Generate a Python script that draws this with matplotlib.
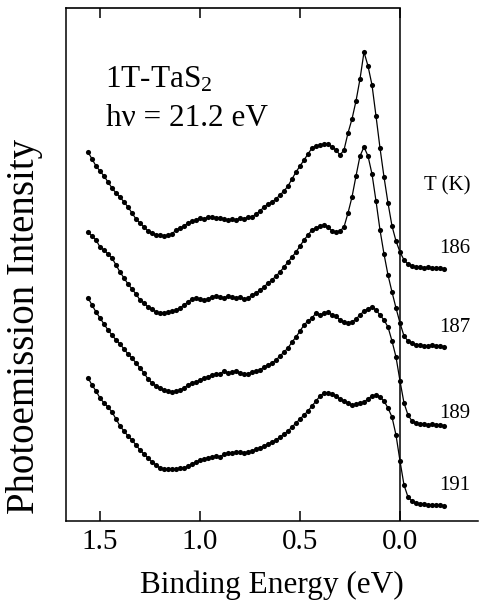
import matplotlib
matplotlib.use("Agg")
import matplotlib.pyplot as plt
import numpy as np

plt.rcParams['font.family'] = ['Liberation Serif', 'DejaVu Serif']
plt.rcParams['mathtext.default'] = 'regular'

# binding energy grid (eV), measured points
energy = np.linspace(1.56, -0.22, 90)

# spectra (already stacked, arbitrary units)
int_186 = [36.9, 36.2, 35.5, 35.0, 34.5, 33.9, 33.3, 32.8, 32.4, 31.9,
           31.4, 30.8, 30.2, 29.8, 29.4, 29.0, 28.8, 28.6, 28.6, 28.5,
           28.6, 28.7, 29.1, 29.3, 29.5, 29.8, 30.0, 30.1, 30.3, 30.2,
           30.4, 30.4, 30.3, 30.3, 30.2, 30.1, 30.2, 30.1, 30.3, 30.2,
           30.4, 30.4, 30.7, 31.0, 31.4, 31.7, 31.9, 32.2, 32.6, 33.0,
           33.5, 34.2, 34.9, 35.5, 36.1, 36.7, 37.3, 37.5, 37.6, 37.7,
           37.7, 37.4, 37.1, 36.6, 37.1, 38.8, 40.2, 42.0, 44.2, 46.9,
           45.5, 43.6, 40.5, 37.3, 34.4, 31.8, 29.5, 28.0, 26.9, 26.1,
           25.7, 25.5, 25.4, 25.4, 25.3, 25.4, 25.3, 25.3, 25.3, 25.2]
int_187 = [28.9, 28.5, 28.1, 27.4, 27.1, 26.7, 26.3, 25.6, 24.9, 24.3,
           23.7, 23.2, 22.7, 22.1, 21.8, 21.4, 21.2, 20.9, 20.8, 20.8,
           20.9, 21.0, 21.1, 21.3, 21.6, 21.9, 22.2, 22.3, 22.2, 22.1,
           22.2, 22.4, 22.5, 22.4, 22.3, 22.5, 22.4, 22.3, 22.4, 22.2,
           22.3, 22.6, 22.8, 23.1, 23.4, 23.8, 24.1, 24.5, 24.9, 25.4,
           25.9, 26.4, 26.9, 27.5, 28.1, 28.6, 29.1, 29.3, 29.5, 29.6,
           29.4, 29.0, 28.9, 29.0, 29.4, 30.8, 32.4, 34.5, 36.5, 37.4,
           36.5, 34.7, 32.0, 29.1, 26.7, 24.6, 22.9, 21.3, 19.8, 18.5,
           18.0, 17.8, 17.6, 17.6, 17.5, 17.5, 17.6, 17.5, 17.5, 17.4]
int_189 = [22.3, 21.6, 20.9, 20.3, 19.7, 19.1, 18.6, 18.1, 17.7, 17.2,
           16.7, 16.3, 15.8, 15.3, 14.8, 14.2, 13.8, 13.5, 13.3, 13.1,
           13.0, 12.9, 13.0, 13.1, 13.3, 13.6, 13.8, 13.9, 14.1, 14.3,
           14.4, 14.6, 14.7, 14.7, 15.0, 14.8, 14.9, 15.0, 14.8, 14.7,
           14.7, 14.9, 15.0, 15.1, 15.4, 15.6, 15.8, 16.1, 16.5, 16.9,
           17.3, 17.9, 18.4, 19.0, 19.6, 20.0, 20.3, 20.8, 20.6, 20.8,
           20.9, 20.6, 20.5, 20.1, 19.9, 19.8, 19.9, 20.2, 20.6, 21.0,
           21.2, 21.4, 21.1, 20.6, 20.1, 19.4, 18.0, 16.4, 14.0, 11.8,
           10.6, 10.0, 9.8, 9.7, 9.7, 9.6, 9.7, 9.6, 9.6, 9.5]
int_191 = [14.3, 13.6, 13.0, 12.3, 11.8, 11.4, 10.9, 10.2, 9.5, 9.0,
           8.5, 8.1, 7.6, 7.1, 6.7, 6.3, 5.9, 5.6, 5.3, 5.2,
           5.2, 5.2, 5.2, 5.3, 5.3, 5.5, 5.7, 5.9, 6.1, 6.2,
           6.3, 6.4, 6.5, 6.4, 6.7, 6.8, 6.8, 6.9, 6.9, 6.8,
           6.9, 7.0, 7.2, 7.3, 7.5, 7.7, 7.9, 8.1, 8.4, 8.7,
           9.0, 9.4, 9.8, 10.2, 10.6, 11.0, 11.5, 12.0, 12.5, 12.8,
           12.8, 12.7, 12.5, 12.2, 12.0, 11.8, 11.6, 11.7, 11.8, 11.9,
           12.2, 12.5, 12.6, 12.4, 12.0, 11.3, 10.4, 8.6, 6.0, 3.6,
           2.4, 2.0, 1.8, 1.7, 1.7, 1.6, 1.6, 1.6, 1.6, 1.5]

temps = ['186', '187', '189', '191']
label_y = [27.2, 19.4, 10.7, 3.5]
xticks = [1.5, 1.0, 0.5, 0.0]

fig = plt.figure(figsize=(4.8, 6.03), dpi=100)
ax = fig.add_axes([66 / 480, 82 / 603, 412 / 480, 513 / 603])

for spec in [int_186, int_187, int_189, int_191]:
    ax.plot(energy, spec, color='black', lw=0.9, marker='o', ms=3.7,
            markeredgewidth=0)

ax.set_xlim(1.67, -0.39)
ax.set_ylim(0, 51.3)

ax.spines['right'].set_visible(False)
ax.spines['top'].set_visible(False)
for s in ['left', 'bottom']:
    ax.spines[s].set_linewidth(1.1)
# top frame line only up to E = 0, and the Fermi level line
ax.axhline(51.3, xmin=0, xmax=1.67 / 2.06, color='black', lw=1.2, clip_on=False)
ax.axvline(0.0, color='black', lw=1.1)

ax.set_xticks(xticks)
ax.set_xticklabels([f"{t:.1f}" for t in xticks], fontsize=21)
ax.tick_params(axis='x', direction='in', length=7.5, width=1.1, top=True, pad=6)
ax.set_yticks([])

ax.set_xlabel("Binding Energy (eV)", fontsize=22.5)
ax.xaxis.set_label_coords(0.5, -0.125)
ax.xaxis.label.set_va('center')
ax.set_ylabel("Photoemission Intensity", fontsize=28)
ax.yaxis.set_label_coords(-41 / 412, 0.38)
ax.yaxis.label.set_va('center')

ax.text(1.475, 43.3, "1T-TaS$_2$", fontsize=22.5, va='baseline')
ax.text(1.47, 39.5, "hν = 21.2 eV", fontsize=22.5, va='baseline')

ax.text(-0.35, 33.5, "T (K)", fontsize=15, ha='right', va='center')
for t, y in zip(temps, label_y):
    ax.text(-0.35, y, t, fontsize=15, ha='right', va='center')

fig.savefig("out.png", dpi=100)
